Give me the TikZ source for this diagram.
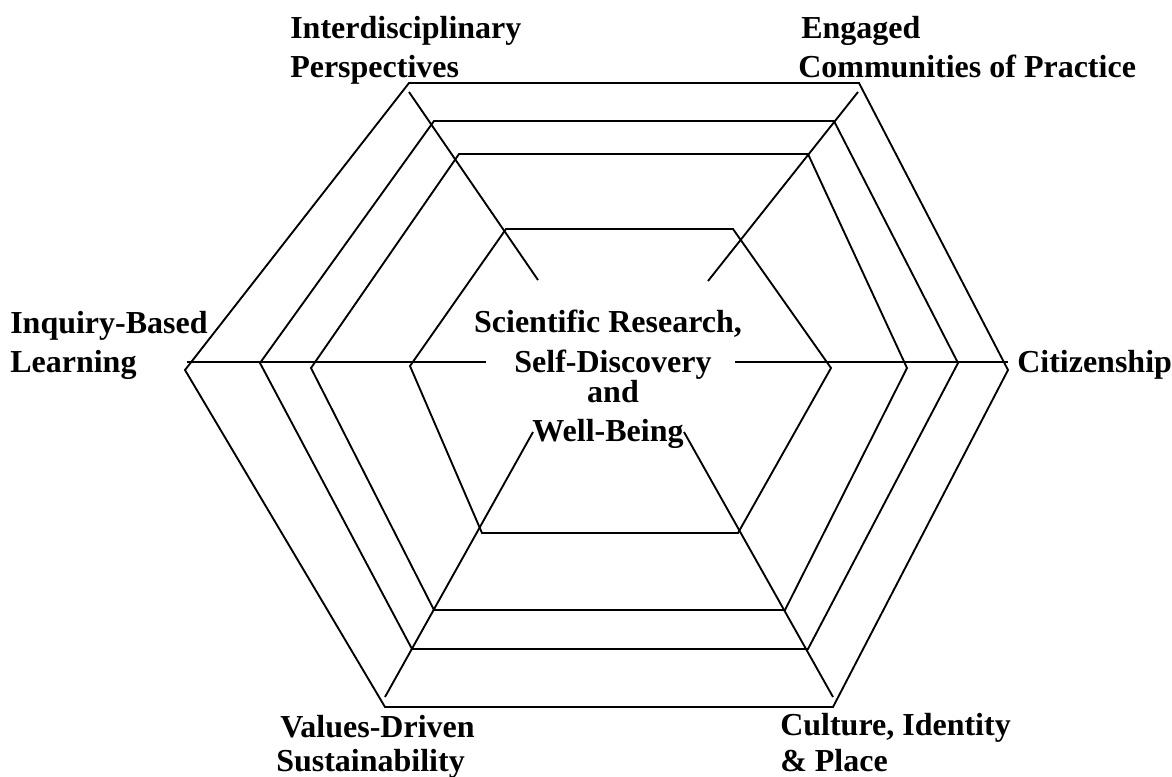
\documentclass[tikz,border=0pt]{standalone}
\usepackage{fontspec}
\setmainfont{Liberation Serif}
\begin{document}
\begin{tikzpicture}[x=0.75pt,y=-0.75pt,
  lbl/.style={font=\fontsize{24}{29}\selectfont\bfseries, inner sep=0pt, anchor=base west},
  ctr/.style={font=\fontsize{24}{29}\selectfont\bfseries, inner sep=0pt, anchor=base},
  hex/.style={draw=black, line width=1.4pt, line join=miter},
  spoke/.style={draw=black, line width=1.4pt}]
\useasboundingbox (0,0) rectangle (1172,776);
% hexagon vertices
\coordinate (h1tl) at (409,83);  \coordinate (h1tr) at (859,83);  \coordinate (h1r) at (1008,370);
\coordinate (h1br) at (833,707); \coordinate (h1bl) at (385,707); \coordinate (h1l) at (185,370);
\coordinate (h2tl) at (434,121); \coordinate (h2tr) at (834,121); \coordinate (h2r) at (958,363);
\coordinate (h2br) at (808,649); \coordinate (h2bl) at (412,649); \coordinate (h2l) at (260,363);
\coordinate (h3tl) at (459,154); \coordinate (h3tr) at (808,154); \coordinate (h3r) at (907,368);
\coordinate (h3br) at (785,610); \coordinate (h3bl) at (434,610); \coordinate (h3l) at (311,368);
\coordinate (h4tl) at (506,229); \coordinate (h4tr) at (733,229); \coordinate (h4r) at (831,368);
\coordinate (h4br) at (738,533); \coordinate (h4bl) at (482,533); \coordinate (h4l) at (410,366);
\foreach \h in {h1,h2,h3,h4}
  \draw[hex] (\h tl) -- (\h tr) -- (\h r) -- (\h br) -- (\h bl) -- (\h l) -- cycle;
% spokes
\coordinate (s1a) at (409,92);  \coordinate (s1b) at (538,280);
\coordinate (s2a) at (858,92);  \coordinate (s2b) at (708,281);
\coordinate (s3a) at (187,362); \coordinate (s3b) at (486,362);
\coordinate (s4a) at (735,362); \coordinate (s4b) at (1008,362);
\coordinate (s5a) at (385,697); \coordinate (s5b) at (533,432);
\coordinate (s6a) at (833,697); \coordinate (s6b) at (684,432);
\draw[spoke] (s1a) -- (s1b);
\draw[spoke] (s2a) -- (s2b);
\draw[spoke] (s3a) -- (s3b);
\draw[spoke] (s4a) -- (s4b);
\draw[spoke] (s5a) -- (s5b);
\draw[spoke] (s6a) -- (s6b);
% labels
\node[lbl] (t1a) at (290,38) {Interdisciplinary};
\node[lbl] (t1b) at (290,77) {Perspectives};
\node[lbl] (t2a) at (801,38) {Engaged};
\node[lbl] (t2b) at (798,77) {Communities of Practice};
\node[lbl] (t3a) at (10,333) {Inquiry-Based};
\node[lbl] (t3b) at (10,372) {Learning};
\node[lbl] (t4) at (1017,372) {Citizenship};
\node[lbl] (t5a) at (280,737) {Values-Driven};
\node[lbl] (t5b) at (276,771) {Sustainability};
\node[lbl] (t6a) at (780,735) {Culture, Identity};
\node[lbl] (t6b) at (780,771) {\& Place};
\node[ctr] (c1) at (608,332) {Scientific Research,};
\node[ctr] (c2) at (613,372) {Self-Discovery};
\node[ctr] (c3) at (613,402) {and};
\node[ctr] (c4) at (608,441) {Well-Being};
\end{tikzpicture}
\end{document}
